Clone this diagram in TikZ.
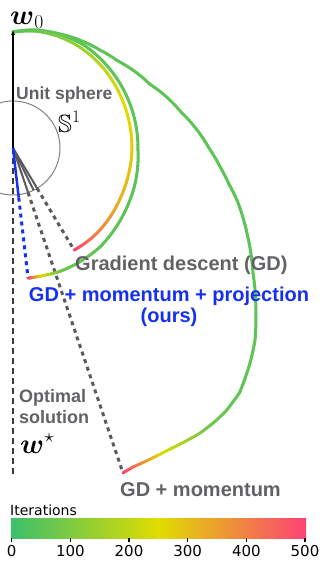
\documentclass[tikz,border=0pt]{standalone}
\usepackage{fix-cm}
\usepackage{amsmath,amssymb}
\usepackage{fontspec}
\setsansfont{Liberation Sans}
\newfontfamily\cbarfont{DejaVu Sans}
\usetikzlibrary{arrows.meta,calc}
\definecolor{itgreen}{HTML}{3CBF6C}
\definecolor{ityellow}{HTML}{E0DC00}
\definecolor{itpink}{HTML}{FC4274}
\definecolor{lblgray}{HTML}{626266}
\definecolor{dotgray}{HTML}{5A5A5E}
\definecolor{spheregray}{HTML}{808080}
\definecolor{projblue}{HTML}{1530F0}
\definecolor{optbrown}{HTML}{3E372E}

% trajectory through knots angle/radius/iteration, cut into short coloured pieces
\newcommand\trajectory[1]{%
  \foreach \aK/\rK/\cK [count=\i, remember=\aK as \aP (initially 0),
      remember=\rK as \rP (initially 0), remember=\cK as \cP (initially 0)] in {#1}{%
    \ifnum\i>1
      \foreach \k in {1,...,8}{%
        \pgfmathsetmacro\aA{\aP+(\aK-\aP)*(\k-1)/8}
        \pgfmathsetmacro\aB{\aP+(\aK-\aP)*\k/8}
        \pgfmathsetmacro\rA{\rP+(\rK-\rP)*(\k-1)/8}
        \pgfmathsetmacro\rB{\rP+(\rK-\rP)*\k/8}
        \pgfmathsetmacro\cM{\cP+(\cK-\cP)*(\k-0.5)/8}
        \ifdim\cM pt<0.5pt
          \pgfmathsetmacro\pM{min(100,max(0,200*\cM))}
          \colorlet{itcur}{ityellow!\pM!itgreen}
        \else
          \pgfmathsetmacro\pM{min(100,max(0,200*\cM-100))}
          \colorlet{itcur}{itpink!\pM!ityellow}
        \fi
        \draw[traj,itcur] (\aA:\rA) -- (\aB:\rB);
      }%
    \fi
  }}

\begin{document}
\begin{tikzpicture}[
    x=1pt,y=1pt,
    traj/.style={line width=3pt,line cap=round},
    sphere/.style={draw=spheregray,line width=1pt},
    unitline/.style={dotgray,line width=2pt},
    guide/.style={dotgray,line width=3pt,dash pattern=on 4pt off 4pt},
    optline/.style={optbrown,line width=2pt,dash pattern=on 6pt off 4pt},
    lbl/.style={inner sep=0pt,text=lblgray,
        font=\sffamily\bfseries\fontsize{20}{21}\selectfont},
    mathlbl/.style={inner sep=0pt,font=\fontsize{28}{30}\selectfont},
    ticklbl/.style={inner sep=0pt,font=\cbarfont\fontsize{15}{16}\selectfont}
]
\useasboundingbox (-13,-415) rectangle (309,148);

% origin, start and end points
\coordinate (O) at (0,0);
\coordinate (w0pt) at (0,118);
\coordinate (wstar) at (0,-327);
\coordinate (gdend) at (-59.1:119);
\coordinate (projend) at (-83.4:131);
\coordinate (momend) at (-71.3:343);
\coordinate (gdunit) at ($(O)!47pt!(gdend)$);
\coordinate (midunit) at (-64:47);
\coordinate (momunit) at ($(O)!47pt!(momend)$);
\coordinate (projunit) at ($(O)!50pt!(projend)$);

% unit sphere
\draw[sphere] (O) circle[radius=47];

% optimal solution direction
\draw[optline] (O) -- (wstar);

% normalised directions and their iterates
\draw[unitline] (O) -- (gdunit);
\draw[unitline] (O) -- (midunit);
\draw[unitline] (O) -- (momunit);
\draw[guide] (gdunit) -- (gdend);
\draw[guide] (momunit) -- (momend);
\draw[projblue,line width=2.5pt] (O) -- (projunit);
\draw[guide,projblue] (projunit) -- (projend);

% GD + momentum
\trajectory{90/116/0.08, 80/119/0.09, 67.6/123.3/0.1, 58/127/0.1, 48.4/131/0.1,
  40/136/0.1, 33/143/0.1, 25/151/0.1, 18.3/162/0.1, 12/172/0.1, 5.6/185/0.1,
  0/196/0.1, -5.2/208/0.1, -9.5/219/0.1, -13.1/230/0.1, -20/249/0.1,
  -27.5/270.6/0.1, -34.2/293.7/0.1, -38.4/308.9/0.1, -42.2/320/0.1,
  -47.2/333.5/0.11, -51.1/338.5/0.13, -53.5/340/0.15, -56.7/341/0.2,
  -60.6/340/0.35, -63/339.5/0.45, -66/340/0.62, -69.4/340.8/0.85, -71.3/343/1}

% GD + momentum + projection
\trajectory{90/116/0.08, 80/120/0.09, 68/123/0.1, 55/125/0.1, 40/125/0.1,
  25/125/0.1, 10/125/0.1, -1/125/0.1, -15/127/0.1, -27.4/128.4/0.1,
  -38/130/0.1, -48.7/131.8/0.1, -62/132/0.12, -69/132/0.15, -73.5/131.5/0.3,
  -78/131/0.5, -81/131/0.75, -83.4/131/1}

% gradient descent
\trajectory{90/116/0.08, 80/119/0.12, 68/120.5/0.2, 55/121/0.3, 40/120.5/0.4,
  25/119.5/0.48, 10/119/0.52, -1/119/0.56, -13/118.5/0.59, -24.6/118.5/0.63,
  -34/119/0.7, -43.3/119.5/0.77, -51/119.5/0.86, -59.1/119/1}

% initial point
\draw[-{Latex[length=5pt,width=4pt]},line width=1.5pt] (O) -- (w0pt);

% labels
\node[mathlbl,anchor=base west] (w0lbl) at (-3,124) {$\boldsymbol{w}_0$};
\node[inner sep=0pt,anchor=base west,font=\fontsize{25}{28}\selectfont]
    (spherelbl) at (45,16) {$\mathbb{S}^1$};
\node[lbl,anchor=base west,font=\sffamily\bfseries\fontsize{17.5}{20}\selectfont]
    (unitlbl) at (3,49) {Unit sphere};
\node[lbl,anchor=base west] (gdlbl) at (62,-122) {Gradient descent (GD)};
\node[lbl,anchor=north,align=center,text=projblue] (projlbl) at (156,-139)
    {GD + momentum + projection\\(ours)};
\node[lbl,anchor=north west,align=left,font=\sffamily\bfseries\fontsize{18}{21}\selectfont]
    (optlbl) at (6,-241) {Optimal\\solution};
\node[mathlbl,anchor=base west] (wstarlbl) at (7,-305) {$\boldsymbol{w}^{\star}$};
\node[lbl,anchor=base west] (momlbl) at (107,-348) {GD + momentum};

% colour bar
\node[inner sep=0pt,anchor=base west,font=\cbarfont\fontsize{14}{16}\selectfont]
    (itlbl) at (-3,-367) {Iterations};
\shade[left color=itgreen,right color=ityellow] (-2,-390) rectangle (145.5,-370);
\shade[left color=ityellow,right color=itpink] (145.5,-390) rectangle (293,-370);
\foreach \k in {0,...,5}{
    \pgfmathtruncatemacro\lab{100*\k}
    \draw[line width=1.3pt] (-1.3+58.66*\k,-390) -- ++(0,-4);
    \node[ticklbl,anchor=base] at (-1.3+58.66*\k,-408) {\lab};
}

\end{tikzpicture}
\end{document}
